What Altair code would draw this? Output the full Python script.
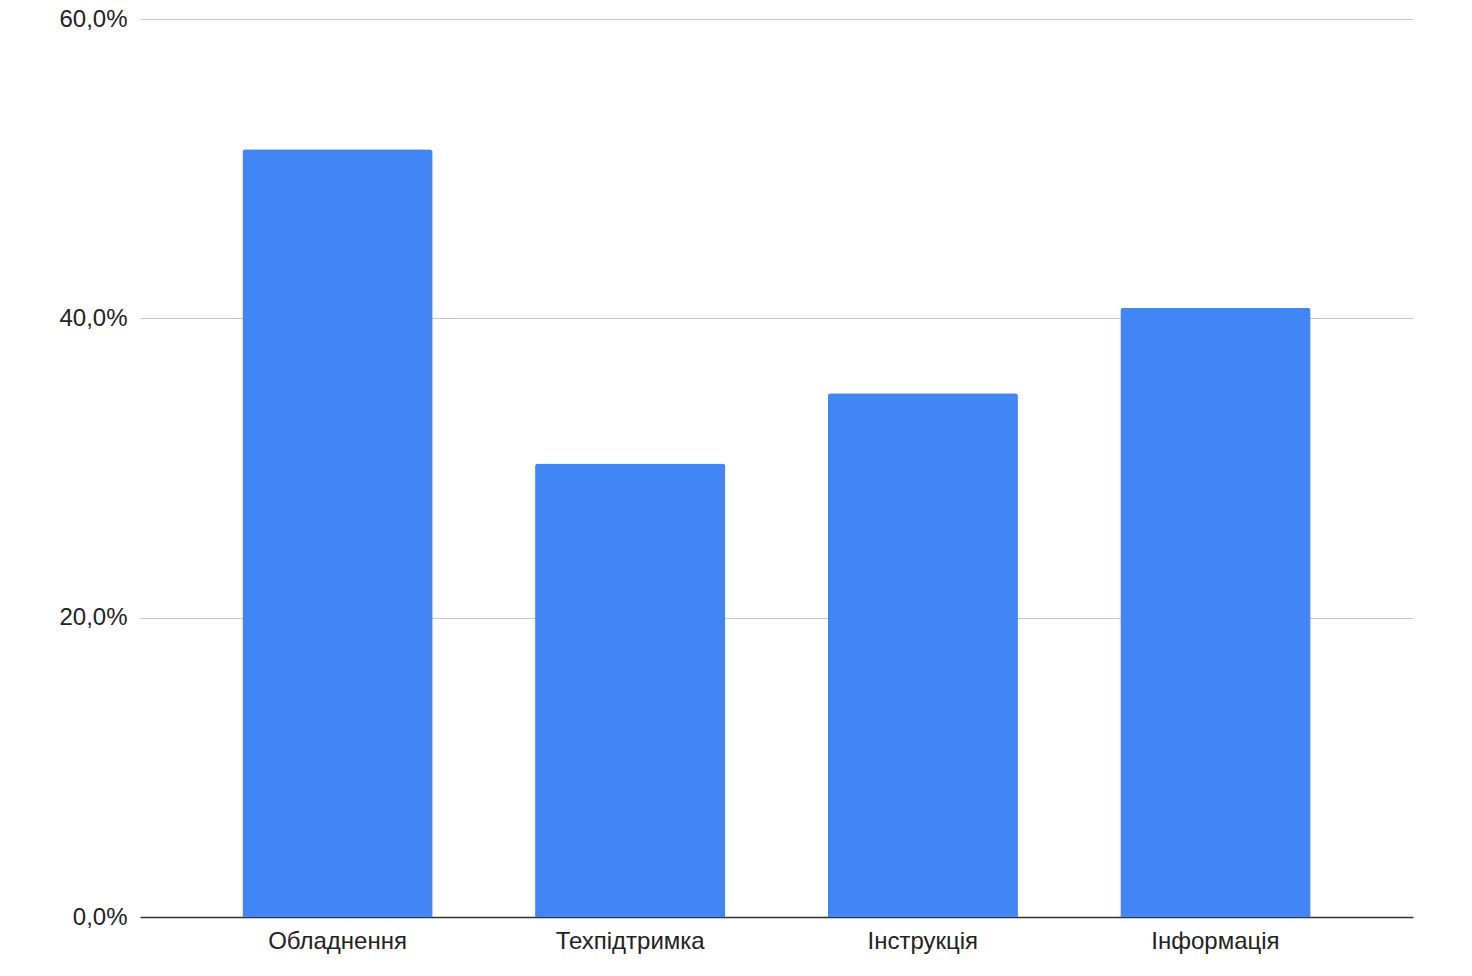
import altair as alt
import pandas as pd

categories = ["Обладнення", "Техпідтримка", "Інструкція", "Інформація"]
values = [51.3, 30.3, 35.0, 40.7]

df = pd.DataFrame({"category": categories, "value": values})

FONT = "Liberation Sans"

chart = alt.Chart(df).mark_bar(
    color="#4285F4", cornerRadiusTopLeft=3, cornerRadiusTopRight=3
).encode(
    x=alt.X("category:N", sort=categories, title=None,
            scale=alt.Scale(paddingInner=0.35, paddingOuter=0.35),
            axis=alt.Axis(labelAngle=0, ticks=False, domain=True, domainColor="#333333",
                          domainWidth=1.5, labelPadding=12, labelFontSize=24,
                          labelFont=FONT, labelColor="#222222", grid=False)),
    y=alt.Y("value:Q", title=None,
            scale=alt.Scale(domain=[0, 60], nice=False),
            axis=alt.Axis(values=[0, 20, 40, 60], ticks=False, domain=False,
                          labelPadding=13, labelFontSize=24, labelFont=FONT,
                          labelColor="#222222", gridColor="#c8c8c8", gridWidth=1,
                          labelExpr="replace(format(datum.value, '.1f'), '.', ',') + '%'")),
).properties(
    width=1273, height=898,
    autosize=alt.AutoSizeParams(type="none"),
    padding={"left": 132, "top": 11, "right": 50, "bottom": 60},
    background="white",
).configure_view(strokeWidth=0, stroke="transparent")

chart.save("out.html", embed_options={"renderer": "svg", "actions": False})
